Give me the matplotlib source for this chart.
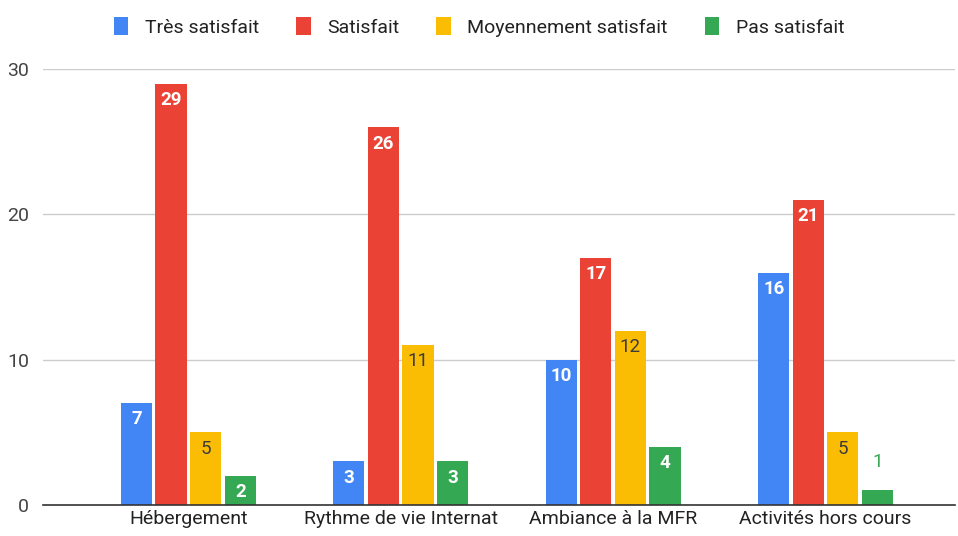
import matplotlib.pyplot as plt
import numpy as np

categories = ['Hébergement', 'Rythme de vie Internat', 'Ambiance à la MFR', 'Activités hors cours']
series_names = ['Très satisfait', 'Satisfait', 'Moyennement satisfait', 'Pas satisfait']
tres_satisfait = [7, 3, 10, 16]
satisfait = [29, 26, 17, 21]
moyennement = [5, 11, 12, 5]
pas_satisfait = [2, 3, 4, 1]

colors = ['#4285F4', '#EA4335', '#FBBC04', '#34A853']
label_colors = ['white', 'white', '#3c3c3c', 'white']

plt.rcParams['font.family'] = ['Roboto', 'DejaVu Sans']

fig = plt.figure(figsize=(9.58, 5.36), dpi=100)
ax = fig.add_axes([0.045, 0.058, 0.952, 0.813])

x = np.arange(len(categories))
pitch = 0.163
width = 0.147
all_values = [tres_satisfait, satisfait, moyennement, pas_satisfait]

for i, (name, vals) in enumerate(zip(series_names, all_values)):
    pos = x + (i - 1.5) * pitch
    ax.bar(pos, vals, width, color=colors[i], label=name, zorder=3)
    for xp, v in zip(pos, vals):
        if v >= 2:
            ax.text(xp, v - 0.5, str(v), ha='center', va='top', fontsize=13.5,
                    color=label_colors[i],
                    fontweight='bold' if label_colors[i] == 'white' else 'normal',
                    zorder=4)
        else:
            ax.text(xp, v + 2.6, str(v), ha='center', va='top', fontsize=13.5,
                    color=colors[i], zorder=4)

ax.set_xlim(-0.684, 3.61)
ax.set_ylim(0, 30)
ax.set_yticks([0, 10, 20, 30])
ax.set_xticks(x)
ax.set_xticklabels(categories, fontsize=14, color='#222222')
ax.tick_params(axis='y', labelsize=14, colors='#444444', length=0, pad=10)
ax.tick_params(axis='x', length=0, pad=4)
ax.grid(axis='y', color='#cccccc', linewidth=1, zorder=0)
for side in ['top', 'right', 'left']:
    ax.spines[side].set_visible(False)
ax.spines['bottom'].set_color('#333333')
ax.spines['bottom'].set_linewidth(1.2)
ax.spines['bottom'].set_zorder(5)

fig.legend(loc='upper center', bbox_to_anchor=(0.5, 1.0), ncol=4, frameon=False,
           fontsize=14, handlelength=0.75, handleheight=1.0, columnspacing=1.9,
           handletextpad=0.85, labelcolor='#222222')

fig.savefig('out.png', dpi=100)
